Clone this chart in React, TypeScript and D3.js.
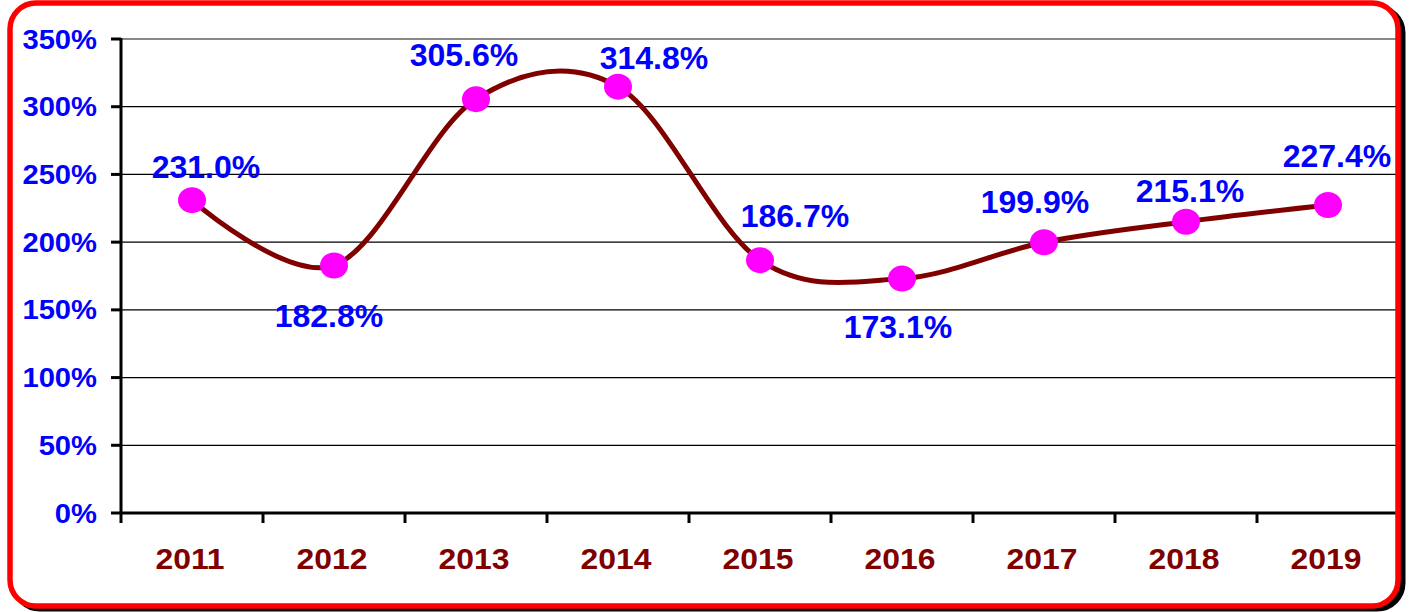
import React from "react";
import * as d3 from "d3";

const years = ["2011", "2012", "2013", "2014", "2015", "2016", "2017", "2018", "2019"];
const values = [231.0, 182.8, 305.6, 314.8, 186.7, 173.1, 199.9, 215.1, 227.4];
const yTicks = [0, 50, 100, 150, 200, 250, 300, 350];
// label offsets relative to each point (dx, dy to baseline)
const labelDx = [14, -5, -12, 36, 35, -4, -9, 4, 9];
const labelDy = [-22, 62, -33, -18, -33, 59, -29, -20, -38];

const W = 1416;
const H = 612;
const M = { left: 121, right: 1399, top: 39, bottom: 513 };

export default function App() {
  const x = d3.scaleBand<string>().domain(years).range([M.left, M.right]).padding(0);
  const y = d3.scaleLinear().domain([0, 350]).range([M.bottom, M.top]);
  const cx = (d: string) => (x(d) as number) + x.bandwidth() / 2;

  const line = d3
    .line<number>()
    .x((_, i) => cx(years[i]))
    .y((d) => y(d))
    .curve(d3.curveCardinal.tension(0));

  const font = "'Liberation Sans', Arial, sans-serif";
  const edges = years.map((d) => x(d) as number).concat([M.right]);

  return (
    <svg
      width={W}
      height={H}
      style={{ position: "absolute", left: 0, top: 0, background: "#fff" }}
    >
      <defs>
        <clipPath id="inner">
          <rect x={10} y={3} width={1388} height={603} rx={26} ry={26} />
        </clipPath>
      </defs>
      {/* frame shadow */}
      <rect x={14} y={7} width={1389} height={602} rx={26} ry={26} fill="#000" stroke="#000" strokeWidth={5} />
      <rect x={10} y={3} width={1388} height={603} rx={26} ry={26} fill="#fff" />

      <g clipPath="url(#inner)">
        {yTicks.slice(1).map((t) => (
          <line
            key={t}
            x1={M.left}
            x2={M.right + 4}
            y1={y(t)}
            y2={y(t)}
            stroke={t === 350 ? "#888" : "#000"}
            strokeWidth={t === 350 ? 2 : 1.3}
          />
        ))}
      </g>

      {/* y axis */}
      <line x1={M.left} x2={M.left} y1={M.top - 1} y2={M.bottom + 10} stroke="#000" strokeWidth={3} />
      {yTicks.map((t) => (
        <g key={t}>
          <line x1={M.left - 10} x2={M.left} y1={y(t)} y2={y(t)} stroke="#000" strokeWidth={3} />
          <text
            transform={`translate(97,${y(t) + 9.5}) scale(1.08,1)`}
            textAnchor="end"
            fontFamily={font}
            fontWeight="bold"
            fontSize={27}
            fill="#0000FF"
          >
            {t}%
          </text>
        </g>
      ))}

      {/* x axis */}
      <line x1={M.left} x2={M.right} y1={M.bottom} y2={M.bottom} stroke="#000" strokeWidth={3} />
      {edges.slice(1, -1).map((e, i) => (
        <line key={i} x1={e} x2={e} y1={M.bottom} y2={M.bottom + 10} stroke="#000" strokeWidth={3} />
      ))}
      {years.map((d) => (
        <text
          key={d}
          transform={`translate(${cx(d) - 2},569) scale(1.08,1)`}
          textAnchor="middle"
          fontFamily={font}
          fontWeight="bold"
          fontSize={29.5}
          fill="#800000"
        >
          {d}
        </text>
      ))}

      {/* line */}
      <path d={line(values) || ""} fill="none" stroke="#800000" strokeWidth={5} strokeLinejoin="round" />

      {/* markers */}
      {values.map((v, i) => (
        <ellipse key={i} cx={cx(years[i])} cy={y(v)} rx={14} ry={13} fill="#FF00FF" />
      ))}

      {/* data labels */}
      {values.map((v, i) => (
        <text
          key={i}
          transform={`translate(${cx(years[i]) + labelDx[i]},${y(v) + labelDy[i]}) scale(1.05,1)`}
          textAnchor="middle"
          fontFamily={font}
          fontWeight="bold"
          fontSize={30.5}
          fill="#0000FF"
        >
          {v.toFixed(1)}%
        </text>
      ))}

      {/* frame border */}
      <rect x={10} y={3} width={1388} height={603} rx={26} ry={26} fill="none" stroke="#FF0000" strokeWidth={5.5} />
    </svg>
  );
}
